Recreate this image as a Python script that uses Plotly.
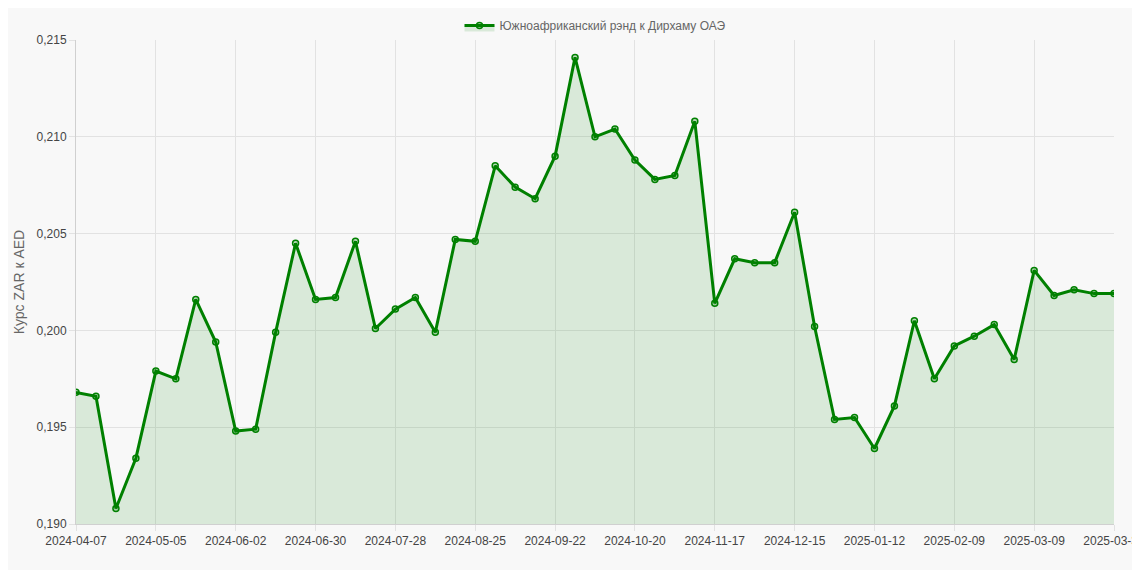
import plotly.graph_objects as go
import datetime as dt

start = dt.date(2024, 4, 7)
dates = [(start + dt.timedelta(weeks=i)).isoformat() for i in range(52)] + ["2025-03-31"]
values = [0.1968, 0.1966, 0.1908, 0.1934, 0.1979, 0.1975, 0.2016, 0.1994, 0.1948, 0.1949,
          0.1999, 0.2045, 0.2016, 0.2017, 0.2046, 0.2001, 0.2011, 0.2017, 0.1999, 0.2047,
          0.2046, 0.2085, 0.2074, 0.2068, 0.2090, 0.2141, 0.2100, 0.2104, 0.2088, 0.2078,
          0.2080, 0.2108, 0.2014, 0.2037, 0.2035, 0.2035, 0.2061, 0.2002, 0.1954, 0.1955,
          0.1939, 0.1961, 0.2005, 0.1975, 0.1992, 0.1997, 0.2003, 0.1985, 0.2031, 0.2018,
          0.2021, 0.2019, 0.2019]
tick_labels = [dates[i] for i in range(0, 49, 4)] + [dates[52]]

fig = go.Figure(go.Scatter(
    x=dates, y=values, mode="lines+markers", name="Южноафриканский рэнд к Дирхаму ОАЭ",
    line=dict(color="green", width=3),
    marker=dict(size=6, color="rgba(0,128,0,0.25)", line=dict(color="green", width=1.5)),
    fill="tozeroy", fillcolor="rgba(0,128,0,0.12)"))

fig.update_layout(
    width=1140, height=570, paper_bgcolor="#f8f8f8", plot_bgcolor="#f8f8f8",
    margin=dict(l=68, r=34, t=32, b=54, autoexpand=False), separators=", ",
    font=dict(family="Liberation Sans, Arial", size=12, color="#666"),
    showlegend=True,
    legend=dict(orientation="h", x=0.5, xanchor="center", y=1.0, yanchor="bottom",
                bgcolor="rgba(0,0,0,0)", font=dict(size=12, color="#666")),
    xaxis=dict(type="category", tickmode="array", tickvals=tick_labels, ticktext=tick_labels,
               showgrid=True, gridcolor="#e2e2e2", tickangle=0, range=[0, 52], automargin=False,
               ticks="outside", ticklen=6, tickcolor="#e2e2e2",
               showline=True, linecolor="#d0d0d0", tickfont=dict(color="#444")),
    yaxis=dict(range=[0.190, 0.215], dtick=0.005, tickformat=".3f", automargin=False,
               showgrid=True, gridcolor="#e2e2e2", zeroline=False,
               ticks="outside", ticklen=6, tickcolor="#e2e2e2",
               showline=True, linecolor="#d0d0d0",
               title=dict(text="Курс ZAR к AED", font=dict(size=14, color="#666"), standoff=8),
               tickfont=dict(color="#444")),
)
fig.write_html("out.html")
